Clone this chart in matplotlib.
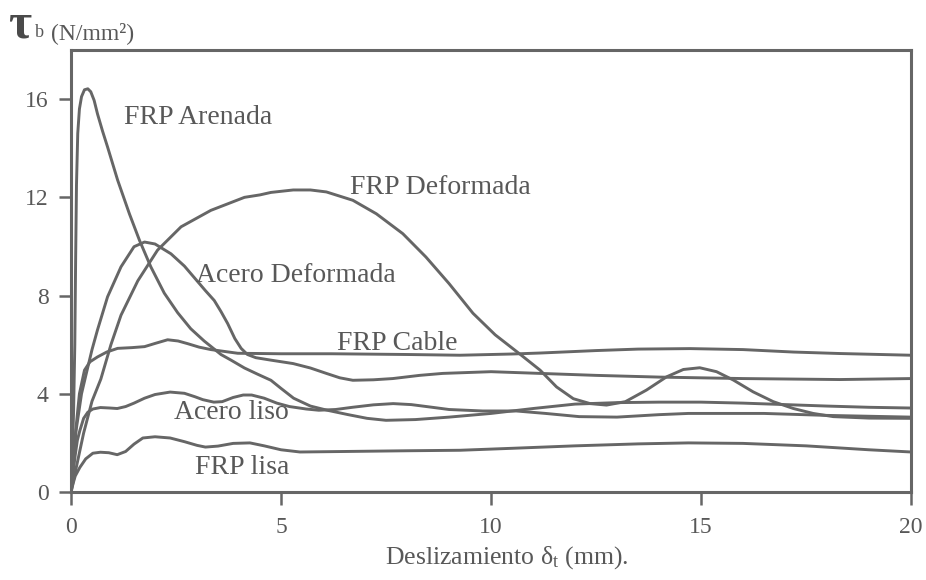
import matplotlib
matplotlib.use("Agg")
import matplotlib.pyplot as plt

plt.rcParams['font.family'] = ['Liberation Serif', 'DejaVu Serif']
plt.rcParams['mathtext.fontset'] = 'custom'
plt.rcParams['mathtext.rm'] = 'Liberation Serif'
plt.rcParams['mathtext.it'] = 'Liberation Serif:italic'

# ---- data ----
arenada_x = [0, 0.03, 0.06, 0.09, 0.11, 0.13, 0.16, 0.2, 0.25, 0.32, 0.4, 0.47, 0.55, 0.63, 0.75,
             0.87, 1.11, 1.39, 1.63, 1.9, 2.22, 2.54, 2.85, 3.17, 3.57, 3.81, 4.13, 4.44, 4.76,
             5.0, 5.3, 5.7, 6.1, 6.6, 7.05, 7.5, 8.2, 9.0, 10.0, 11.0, 12.0, 13.0, 14.0, 15.0,
             16.0, 17.0, 18.0, 19.0, 20.0]
arenada_y = [0, 1.5, 3.2, 6.0, 9.5, 12.5, 14.6, 15.6, 16.1, 16.38, 16.42, 16.3, 15.95, 15.4, 14.7,
             14.05, 12.7, 11.33, 10.25, 9.17, 8.1, 7.3, 6.65, 6.15, 5.6, 5.37, 5.05, 4.8, 4.55,
             4.22, 3.82, 3.5, 3.33, 3.15, 3.0, 2.92, 2.95, 3.05, 3.2, 3.4, 3.58, 3.64, 3.66, 3.66,
             3.62, 3.56, 3.5, 3.45, 3.42]

deform_x = [0, 0.15, 0.3, 0.5, 0.71, 0.95, 1.19, 1.59, 2.06, 2.62, 3.33, 4.13, 4.5, 4.76, 5.29,
            5.7, 6.08, 6.71, 7.27, 7.9, 8.45, 9.0, 9.57, 10.1, 10.7, 11.17, 11.56, 11.96, 12.36,
            12.75, 13.2, 13.7, 14.18, 14.58, 14.97, 15.37, 15.77, 16.24, 16.72, 17.2, 17.67,
            18.15, 19.0, 20.0]
deform_y = [0, 1.2, 2.4, 3.7, 4.6, 6.0, 7.2, 8.6, 9.85, 10.8, 11.47, 12.0, 12.1, 12.2, 12.3,
            12.3, 12.22, 11.88, 11.33, 10.52, 9.57, 8.49, 7.28, 6.4, 5.6, 4.96, 4.28, 3.8, 3.6,
            3.54, 3.68, 4.15, 4.69, 4.99, 5.06, 4.9, 4.56, 4.08, 3.68, 3.4, 3.2,
            3.07, 3.01, 3.0]

acdef_x = [0, 0.12, 0.25, 0.36, 0.5, 0.63, 0.87, 1.19, 1.5, 1.75, 2.0, 2.38, 2.7, 3.0, 3.2, 3.41,
           3.57, 3.73, 3.9, 4.05, 4.2, 4.4, 4.76, 5.29, 5.7, 6.08, 6.4, 6.71, 7.2, 7.66, 8.3, 8.85,
           10.0, 11.17, 12.5, 14.0, 16.0, 18.3, 20.0]
acdef_y = [0, 2.5, 4.0, 4.8, 5.8, 6.6, 7.95, 9.17, 9.99, 10.18, 10.1, 9.7, 9.2, 8.6, 8.2, 7.8,
           7.35, 6.86, 6.25, 5.85, 5.6, 5.47, 5.37, 5.23, 5.05, 4.83, 4.65, 4.55, 4.57, 4.62, 4.75,
           4.83, 4.9, 4.83, 4.75, 4.68, 4.62, 4.58, 4.62]

cable_x = [0, 0.1, 0.2, 0.32, 0.45, 0.63, 0.85, 1.11, 1.45, 1.75, 2.0, 2.3, 2.55, 2.78, 3.05, 3.33,
           3.97, 5.0, 6.2, 8.0, 9.26, 10.5, 11.17, 12.5, 13.5, 14.74, 16.0, 17.2, 18.3, 20.0]
cable_y = [0, 2.3, 4.0, 4.96, 5.3, 5.5, 5.7, 5.85, 5.88, 5.92, 6.05, 6.2, 6.15, 6.04, 5.9, 5.8,
           5.65, 5.63, 5.63, 5.6, 5.57, 5.62, 5.66, 5.76, 5.82, 5.84, 5.8, 5.7, 5.64, 5.57]

liso_x = [0, 0.05, 0.1, 0.15, 0.21, 0.3, 0.4, 0.52, 0.7, 0.93, 1.1, 1.3, 1.5, 1.75, 2.0, 2.36, 2.7,
          2.95, 3.14, 3.4, 3.6, 3.86, 4.1, 4.3, 4.6, 4.9, 5.2, 5.6, 5.9, 6.3, 6.7, 7.2, 7.67, 8.1,
          8.6, 9.0, 9.8, 10.6, 11.3, 12.1, 13.0, 14.0, 14.7, 16.5, 18.0, 20.0]
liso_y = [0, 0.8, 1.5, 2.1, 2.5, 3.0, 3.25, 3.38, 3.44, 3.42, 3.4, 3.48, 3.62, 3.82, 3.97, 4.07, 4.02,
          3.88, 3.76, 3.66, 3.68, 3.85, 3.95, 3.95, 3.82, 3.62, 3.48, 3.38, 3.33, 3.36, 3.45, 3.55,
          3.6, 3.56, 3.45, 3.36, 3.3, 3.3, 3.2, 3.07, 3.05, 3.15, 3.2, 3.2, 3.12, 3.05]

lisa_x = [0, 0.05, 0.1, 0.21, 0.35, 0.52, 0.7, 0.9, 1.1, 1.3, 1.5, 1.71, 2.0, 2.36, 2.7, 3.0, 3.2,
          3.5, 3.86, 4.26, 4.6, 5.0, 5.45, 6.5, 8.0, 9.26, 10.5, 12.0, 13.5, 14.7, 16.0, 17.5,
          19.0, 20.0]
lisa_y = [0, 0.35, 0.65, 1.0, 1.35, 1.58, 1.62, 1.6, 1.52, 1.65, 1.95, 2.2, 2.25, 2.2, 2.05, 1.9,
          1.83, 1.87, 1.98, 2.0, 1.88, 1.72, 1.63, 1.65, 1.68, 1.7, 1.78, 1.88, 1.96, 2.0, 1.98,
          1.88, 1.72, 1.63]

labels = ["FRP Arenada", "FRP Deformada", "Acero Deformada", "FRP Cable", "Acero liso", "FRP lisa"]
label_x = [1.26, 6.64, 2.98, 6.33, 2.45, 2.95]
label_y = [15.25, 12.4, 8.83, 6.06, 3.25, 0.98]

x_ticks = [0, 5, 10, 15, 20]
y_ticks = [0, 4, 8, 12, 16]

LINE = '#666666'
TXT = '#585858'

fig = plt.figure(figsize=(9.26, 5.8), dpi=100)
ax = fig.add_axes([0.0767, 0.1517, 0.9071, 0.7621])

for xs, ys in [(arenada_x, arenada_y), (deform_x, deform_y), (acdef_x, acdef_y),
               (cable_x, cable_y), (liso_x, liso_y), (lisa_x, lisa_y)]:
    ax.plot(xs, ys, color=LINE, lw=2.1, solid_joinstyle='round', solid_capstyle='round')

for t, lx, ly in zip(labels, label_x, label_y):
    ax.text(lx, ly, t, fontsize=20, color=TXT, ha='left', va='center')

ax.set_xlim(0, 20)
ax.set_ylim(0, 18)
ax.set_xticks(x_ticks)
ax.set_yticks(y_ticks)
ax.tick_params(axis='both', direction='out', colors=LINE, labelcolor=TXT,
               labelsize=17, width=1.8)
ax.tick_params(axis='x', length=9, pad=9)
ax.tick_params(axis='y', length=9, pad=7)
for s in ax.spines.values():
    s.set_color(LINE)
    s.set_linewidth(2.2)

fig.text(0.547, 0.038, r"Deslizamiento δ$_{\mathregular{t}}$ (mm).", fontsize=18.5,
         color=TXT, ha='center', va='center')

fig.text(0.009, 0.9345, "τ", fontsize=36, fontweight='bold', color='#4a4a4a',
         ha='left', va='baseline')
fig.text(0.038, 0.936, "b", fontsize=13, color=TXT, ha='left', va='baseline')
fig.text(0.055, 0.933, "(N/mm²)", fontsize=17, color=TXT, ha='left', va='baseline')

fig.savefig("out.png", dpi=100)
